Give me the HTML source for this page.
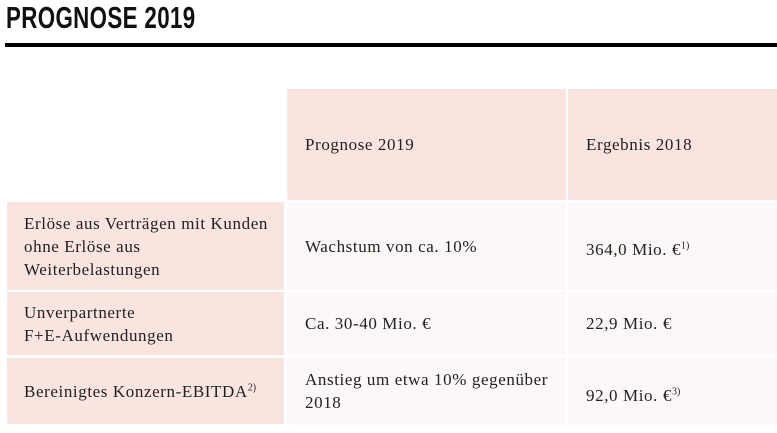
<!DOCTYPE html>
<html><head><meta charset="utf-8"><style>
body{margin:0;width:777px;height:433px;background:#fff;position:relative;overflow:hidden;font-family:"Liberation Serif",serif;color:#222}
.t{position:absolute;left:6px;top:0px;font-family:"Liberation Sans",sans-serif;font-weight:bold;font-size:31px;letter-spacing:0.5px;color:#111;transform:scaleX(0.72);transform-origin:0 0;white-space:nowrap}
.rule{position:absolute;left:5px;top:43px;width:772px;height:4px;background:#000}
.c{position:absolute;box-sizing:border-box;padding-left:18px;display:flex;align-items:center;font-size:17px;letter-spacing:0.6px;line-height:23px}
.h{background:#fae4df}
.b{background:#fdf8f7}
sup{font-size:10px;line-height:0;letter-spacing:0}
</style></head><body>
<div class="t">PROGNOSE 2019</div>
<div class="rule"></div>
<div class="c h" style="left:287px;top:89px;width:279px;height:111px">Prognose 2019</div>
<div class="c h" style="left:568px;top:89px;width:209px;height:111px">Ergebnis 2018</div>

<div class="c h" style="left:7px;top:202px;width:277px;height:88px;padding-left:17px">Erlöse aus Verträgen mit Kunden<br>ohne Erlöse aus<br>Weiterbelastungen</div>
<div class="c b" style="left:287px;top:202px;width:279px;height:88px;align-items:flex-start;padding-top:33px">Wachstum von ca. 10%</div>
<div class="c b" style="left:568px;top:202px;width:209px;height:88px;padding-top:6px"><span>364,0 Mio. €<sup>1)</sup></span></div>

<div class="c h" style="left:7px;top:292px;width:277px;height:63px;padding-left:17px">Unverpartnerte<br>F+E-Aufwendungen</div>
<div class="c b" style="left:287px;top:292px;width:279px;height:63px">Ca. 30-40 Mio. €</div>
<div class="c b" style="left:568px;top:292px;width:209px;height:63px">22,9 Mio. €</div>

<div class="c h" style="left:7px;top:358px;width:277px;height:66px;padding-left:17px"><span>Bereinigtes Konzern-EBITDA<sup>2)</sup></span></div>
<div class="c b" style="left:287px;top:358px;width:279px;height:66px">Anstieg um etwa 10% gegenüber<br>2018</div>
<div class="c b" style="left:568px;top:358px;width:209px;height:66px;padding-top:8px"><span>92,0 Mio. €<sup>3)</sup></span></div>
</body></html>
